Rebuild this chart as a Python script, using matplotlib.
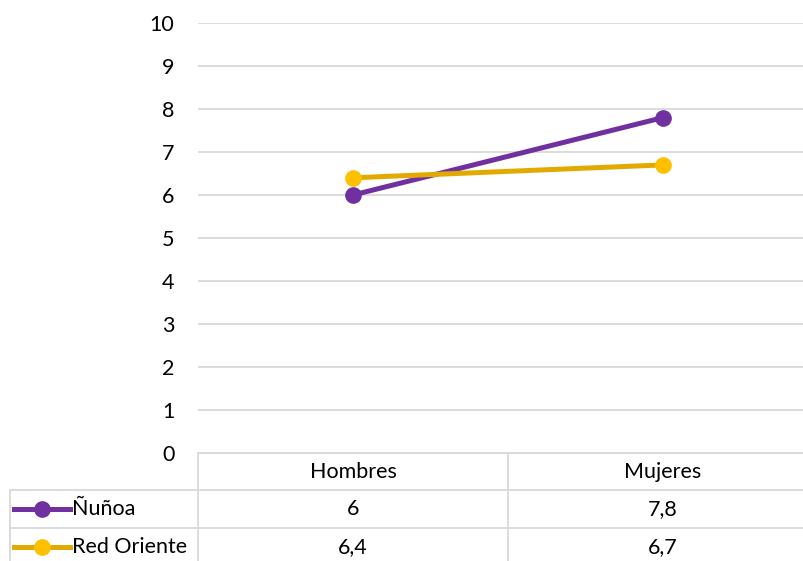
import matplotlib
matplotlib.use("Agg")
import matplotlib.pyplot as plt
from matplotlib.lines import Line2D

plt.rcParams['font.family'] = ['Lato', 'DejaVu Sans']

categories = ["Hombres", "Mujeres"]
series_names = ["Ñuñoa", "Red Oriente"]
nunoa = [6, 7.8]
red_oriente = [6.4, 6.7]
yticks = [0, 1, 2, 3, 4, 5, 6, 7, 8, 9, 10]

W, H = 804, 561
FS = 15.5
fig = plt.figure(figsize=(W / 100, H / 100), dpi=100)

def fx(px):
    return px / W

def fy(py):
    return 1 - py / H

left, right, top, bottom = 198, 818, 23, 453
ax = fig.add_axes([fx(left), fy(bottom), fx(right) - fx(left), fy(top) - fy(bottom)])
ax.set_xlim(-0.5, len(categories) - 0.5)
ax.set_ylim(0, 10)
ax.set_yticks(yticks)
ax.set_yticklabels([str(t) for t in yticks], fontsize=FS, color='#000000')
ax.tick_params(axis='y', length=0, pad=17)
ax.set_xticks([])
for s in ax.spines.values():
    s.set_visible(False)
ax.grid(axis='y', color='#D9D9D9', linewidth=1.3)
ax.set_axisbelow(True)

purple = '#7030A0'
gold_line = '#E2AA00'
gold_mark = '#FFC000'
xs = list(range(len(categories)))
ax.plot(xs, nunoa, color=purple, linewidth=3.6, marker='o', markersize=11,
        markerfacecolor=purple, markeredgecolor=purple, zorder=3)
ax.plot(xs, red_oriente, color=gold_line, linewidth=3.6, marker='o', markersize=11,
        markerfacecolor=gold_mark, markeredgecolor=gold_mark, zorder=3)

# Data table
gcol = '#D9D9D9'
lw = 1.3
row_y = [453, 490, 528, 566]
col_x = [10, 198, 508, 818]

def hline(y, x0, x1):
    fig.add_artist(Line2D([fx(x0), fx(x1)], [fy(y), fy(y)], color=gcol, linewidth=lw))

def vline(x, y0, y1):
    fig.add_artist(Line2D([fx(x), fx(x)], [fy(y0), fy(y1)], color=gcol, linewidth=lw))

hline(row_y[0], col_x[1], col_x[3])
hline(row_y[1], col_x[0], col_x[3])
hline(row_y[2], col_x[0], col_x[3])
vline(col_x[0], row_y[1], row_y[3])
vline(col_x[1], row_y[0], row_y[3])
vline(col_x[2], row_y[0], row_y[3])

for i, c in enumerate(categories):
    cx = (col_x[i + 1] + col_x[i + 2]) / 2
    fig.text(fx(cx), fy((row_y[0] + row_y[1]) / 2), c, ha='center', va='center', fontsize=FS)

def fmt(v):
    return ('%g' % v).replace('.', ',')

series = [(nunoa, purple, purple), (red_oriente, gold_line, gold_mark)]
for r, (name, (vals, lc, mc)) in enumerate(zip(series_names, series)):
    yc = (row_y[r + 1] + row_y[r + 2]) / 2
    fig.add_artist(Line2D([fx(14), fx(70)], [fy(yc), fy(yc)], color=lc, linewidth=3.6))
    fig.add_artist(Line2D([fx(42)], [fy(yc)], marker='o', markersize=11,
                          markerfacecolor=mc, markeredgecolor=mc, linestyle='none'))
    fig.text(fx(72), fy(yc), name, ha='left', va='center', fontsize=FS)
    for i, v in enumerate(vals):
        cx = (col_x[i + 1] + col_x[i + 2]) / 2
        fig.text(fx(cx), fy(yc), fmt(v), ha='center', va='center', fontsize=FS)

fig.savefig('out.png', dpi=100)
